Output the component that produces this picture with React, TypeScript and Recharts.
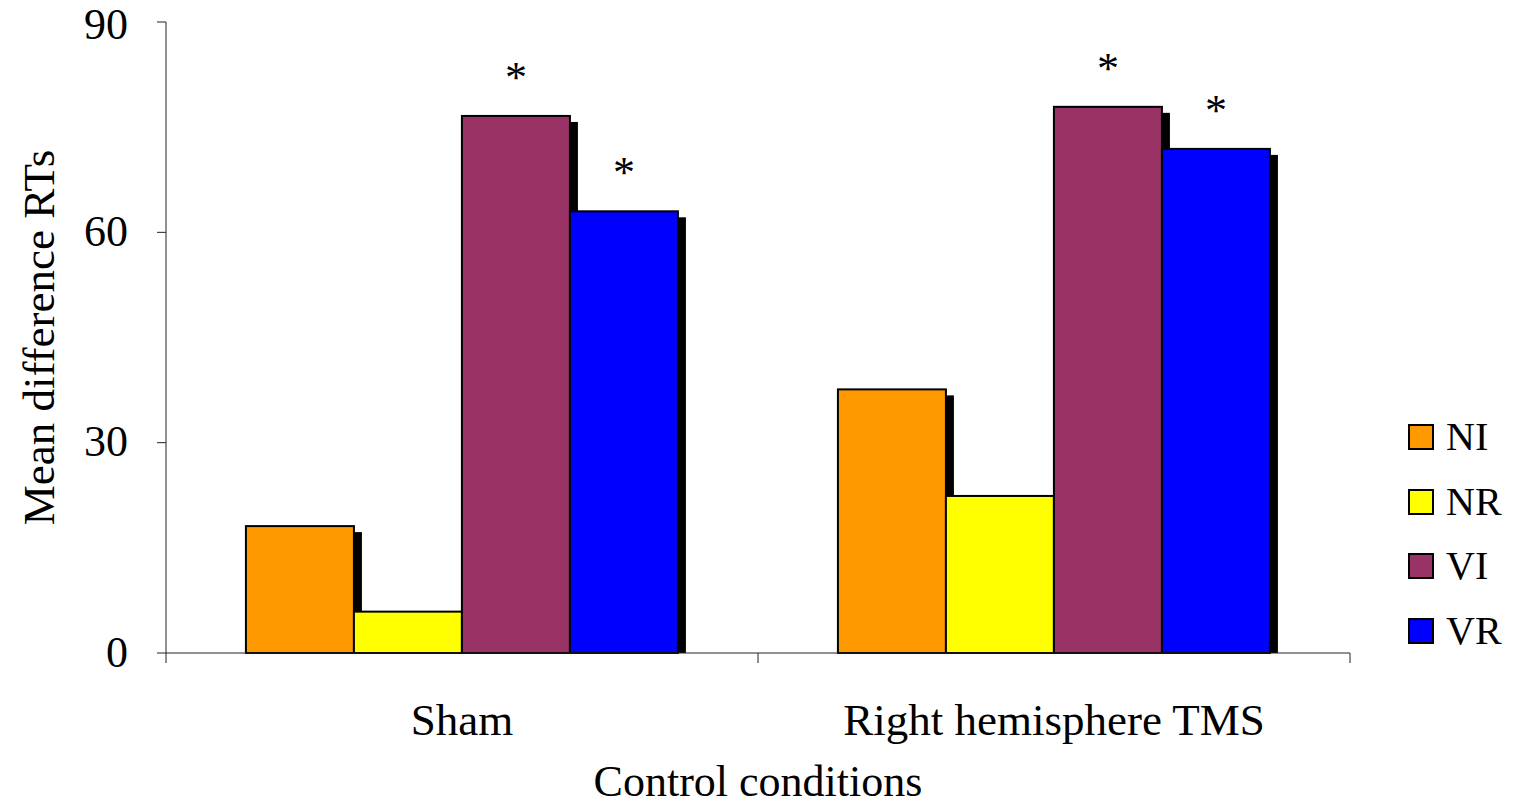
import { BarChart, Bar, XAxis, YAxis, LabelList } from 'recharts';

const conditions = ['Sham', 'Right hemisphere TMS'];
const niValues = [18.1, 37.6];
const nrValues = [5.9, 22.4];
const viValues = [76.6, 77.9];
const vrValues = [63.0, 71.9];
const viStars = ['*', '*'];
const vrStars = ['*', '*'];
const yTicks = [0, 30, 60, 90];

const series = [
  { key: 'NI', color: '#FF9900' },
  { key: 'NR', color: '#FFFF00' },
  { key: 'VI', color: '#993366' },
  { key: 'VR', color: '#0000FF' },
];

const data = conditions.map((c, i) => ({
  condition: c,
  NI: niValues[i],
  NR: nrValues[i],
  VI: viValues[i],
  VR: vrValues[i],
  VIstar: viStars[i],
  VRstar: vrStars[i],
}));

const FONT = '"Liberation Serif", "DejaVu Serif", serif';

function ShadowBar(props: any) {
  const { x, y, width, height, fill } = props;
  if (!height || height <= 0) return null;
  return (
    <g>
      <rect x={x + width} y={y + 6} width={8} height={Math.max(0, height - 6)} fill="#000" />
      <rect x={x} y={y} width={width} height={height} fill={fill} stroke="#000" strokeWidth={2} />
    </g>
  );
}

function StarLabel(props: any) {
  const { x, y, width, value } = props;
  if (!value) return null;
  return (
    <text x={x + width / 2} y={y - 24} textAnchor="middle" fontSize={44} fontFamily={FONT} fill="#000">
      {value}
    </text>
  );
}

function CategoryTick(props: any) {
  const { x, y, payload, index, visibleTicksCount } = props;
  const half = payload.offset ?? 0;
  const last = index === (visibleTicksCount ?? conditions.length) - 1;
  return (
    <g>
      <line x1={x - half} x2={x - half} y1={y} y2={y + 10} stroke="#222" />
      {last && <line x1={x + half} x2={x + half} y1={y} y2={y + 10} stroke="#222" />}
      <text x={x} y={y + 82} textAnchor="middle" fontSize={45} fontFamily={FONT} fill="#000">
        {payload.value}
      </text>
    </g>
  );
}

export default function App() {
  return (
    <div style={{ position: 'absolute', left: 0, top: 0, width: 1515, height: 806, background: '#fff' }}>
      <BarChart
        width={1515}
        height={806}
        data={data}
        margin={{ top: 22, right: 165, left: 0, bottom: 0 }}
        barCategoryGap="13.5%"
        barGap={0}
      >
        <XAxis
          dataKey="condition"
          height={153}
          axisLine={{ stroke: '#222' }}
          tickLine={false}
          tickSize={0}
          tickMargin={0}
          tick={<CategoryTick />}
          interval={0}
          label={{
            content: (p: any) => {
              const vb = p.viewBox;
              return (
                <text x={vb.x + vb.width / 2} y={796} textAnchor="middle" fontSize={44} fontFamily={FONT} fill="#000">
                  Control conditions
                </text>
              );
            },
          }}
        />
        <YAxis
          width={166}
          domain={[0, 90]}
          ticks={yTicks}
          axisLine={{ stroke: '#222' }}
          tickLine={{ stroke: '#222' }}
          tickSize={9}
          tickMargin={29}
          tick={{ fontSize: 44, fontFamily: FONT, fill: '#000', dy: -2 }}
          label={{
            content: (p: any) => {
              const vb = p.viewBox;
              const cy = vb.y + vb.height / 2;
              return (
                <text x={54} y={cy} transform={`rotate(-90, 54, ${cy})`} textAnchor="middle" fontSize={45} fontFamily={FONT} fill="#000">
                  Mean difference RTs
                </text>
              );
            },
          }}
        />
        {series.map((s) => (
          <Bar key={s.key} dataKey={s.key} fill={s.color} shape={<ShadowBar />} isAnimationActive={false}>
            {(s.key === 'VI' || s.key === 'VR') && (
              <LabelList dataKey={`${s.key}star`} content={<StarLabel />} />
            )}
          </Bar>
        ))}
      </BarChart>
      <div style={{ position: 'absolute', left: 1408, top: 405, fontFamily: FONT }}>
        {series.map((s) => (
          <div key={s.key} style={{ display: 'flex', alignItems: 'center', height: 64.5 }}>
            <div style={{ width: 22, height: 22, background: s.color, border: '2px solid #000' }} />
            <span style={{ marginLeft: 12, fontSize: 40, lineHeight: '40px', color: '#000' }}>{s.key}</span>
          </div>
        ))}
      </div>
    </div>
  );
}
